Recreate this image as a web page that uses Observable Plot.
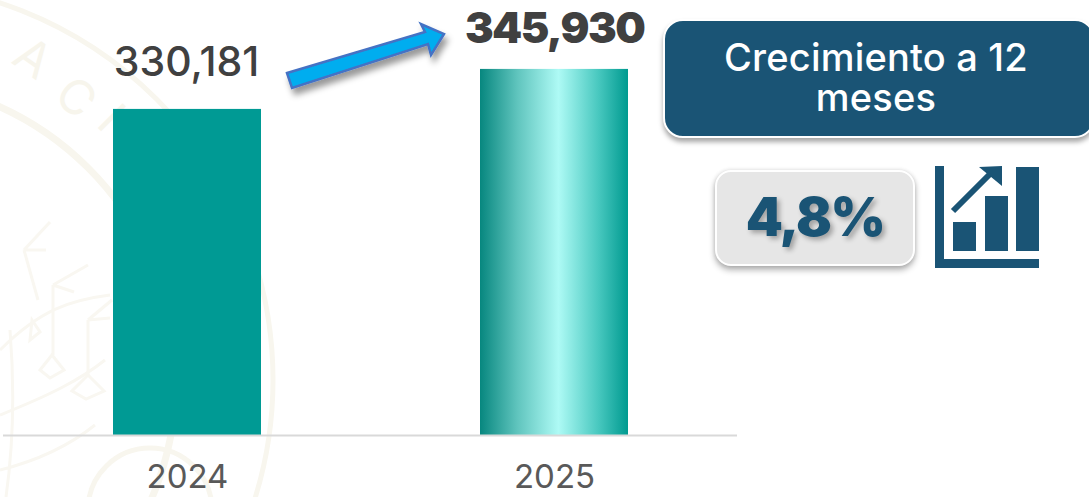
<!DOCTYPE html>
<html lang="es">
<head>
<meta charset="utf-8">
<script src="https://cdn.jsdelivr.net/npm/d3@7"></script>
<script src="https://cdn.jsdelivr.net/npm/@observablehq/plot@0.6"></script>
<style>
  html,body{margin:0;padding:0;background:#fff;}
  #stage{position:relative;width:1089px;height:497px;overflow:hidden;font-family:Inter,"Open Sans",sans-serif;}
  #stage>*{position:absolute;left:0;top:0;}
  #plot svg{display:block;background:transparent;}
  #plot [font-weight="900"]{letter-spacing:-1.6px;}
  #title{left:663px;top:19px;width:432px;height:119px;box-sizing:border-box;background:#1a5475;border:2px solid #fff;border-radius:20px;
    box-shadow:0 4px 5px rgba(0,0,0,.35);color:#fff;text-align:center;font-size:38px;line-height:40px;font-weight:500;letter-spacing:.2px;padding:16px 6px 0 0;white-space:nowrap;}
  #pct{left:715px;top:170px;width:200px;height:96px;box-sizing:border-box;background:#e6e6e6;border:2px solid #fff;border-radius:16px;
    box-shadow:0 4px 6px rgba(0,0,0,.3),0 0 4px rgba(0,0,0,.12);color:#1a5475;text-align:center;font-size:53px;letter-spacing:-1.5px;line-height:90px;font-weight:900;
    text-shadow:3px 3px 5px rgba(0,0,0,.3);}
</style>
</head>
<body>
<div id="stage">
  <svg id="seal" width="1089" height="497" fill="none" stroke="#f8f6ee">
    <circle cx="-124" cy="380" r="397" stroke-width="5"/>
    <circle cx="-124" cy="380" r="300" stroke-width="7"/>
    <circle cx="150" cy="510" r="62" stroke-width="5"/>
    <g fill="#f7f5ec" stroke="none" font-size="48" font-family="Inter">
      <text transform="translate(10,62) rotate(35)">A</text>
      <text transform="translate(52,98) rotate(42)">C</text>
      <text transform="translate(95,125) rotate(45)">I</text>
    </g>
    <g stroke="#f9f7f1" stroke-width="3">
      <path d="M24 250L38 300M53 285V355M88 320V375"/>
      <path d="M24 250L50 222M24 250L46 250M53 285L88 265M53 285L74 292M88 320L112 300M88 320L110 318"/>
      <path d="M32 320l8 12-10 8zM52 355l12 15-14 8-10-8zM88 375l16 16-18 8-14-8z"/>
      <path d="M0 350C40 310 70 300 110 295M0 415C50 395 80 380 105 360M0 470C40 460 70 445 95 425M10 330C14 380 14 440 6 497"/>
    </g>
  </svg>
  <div id="plot"></div>
  <svg id="arrow" width="1089" height="497">
    <defs><filter id="sh" x="-20%" y="-40%" width="140%" height="200%"><feDropShadow dx="3" dy="6" stdDeviation="3" flood-color="#000" flood-opacity=".4"/></filter></defs>
    <polygon points="287,73 425,32 421,24 444,34 431,55 428,44 292,88" fill="#00adef" stroke="#4472c4" stroke-width="2.5" filter="url(#sh)"/>
  </svg>
  <div id="title">Crecimiento a 12<br>meses</div>
  <div id="pct">4,8%</div>
  <svg id="icon" width="1089" height="497" fill="#1a5475">
    <rect x="935" y="166" width="9" height="102"/>
    <rect x="935" y="259" width="104" height="9"/>
    <rect x="953" y="222" width="23" height="29"/>
    <rect x="985" y="196" width="23" height="55"/>
    <rect x="1016" y="167" width="23" height="84"/>
    <path d="M953 211L991 173" stroke="#1a5475" stroke-width="6"/>
    <polygon points="979,167 1002,166 1002,186"/>
  </svg>
</div>
<script>
const years = ["2024", "2025"];
const totals = [330181, 345930];
const yDomain = [201800, 373060];
const table = years.map((year, i) => ({year, total: totals[i]}));

const chart = Plot.plot({
  width: 1089,
  height: 497,
  marginTop: 0,
  marginBottom: 62,
  marginLeft: 3,
  marginRight: 352,
  style: {background: "transparent", fontFamily: "Inter, sans-serif"},
  x: {domain: years, paddingInner: 0.597, paddingOuter: 0.2985, label: null},
  y: {domain: yDomain, axis: null},
  marks: [
    Plot.barY(table.slice(0, 1), {x: "year", y1: yDomain[0], y2: "total", fill: "#009a94"}),
    Plot.barY(table.slice(1), {x: "year", y1: yDomain[0], y2: "total", fill: "url(#shine)"}),
    Plot.ruleY([yDomain[0]], {stroke: "#d9d9d9", strokeWidth: 2}),
    Plot.axisX({tickSize: 0, tickPadding: 29, fontSize: 33, color: "#595959", label: null}),
    Plot.text(table.slice(0, 1), {x: "year", y: "total", text: d => d3.format(",")(d.total), dy: -47, dx: -1, fontSize: 41, fontWeight: 500, fill: "#404040"}),
    Plot.text(table.slice(1), {x: "year", y: "total", text: d => d3.format(",")(d.total), dy: -40, fontSize: 43, fontWeight: 900, fill: "#404040"})
  ]
});

const defs = d3.select(chart).insert("defs", ":first-child");
const grad = defs.append("linearGradient").attr("id", "shine").attr("x1", 0).attr("x2", 1).attr("y1", 0).attr("y2", 0);
[[0, "#07877f"], [0.25, "#5fc4bd"], [0.53, "#aefaf5"], [0.8, "#48c8bf"], [1, "#009a90"]]
  .forEach(([o, c]) => grad.append("stop").attr("offset", o).attr("stop-color", c));

document.getElementById("plot").appendChild(chart);
</script>
</body>
</html>
